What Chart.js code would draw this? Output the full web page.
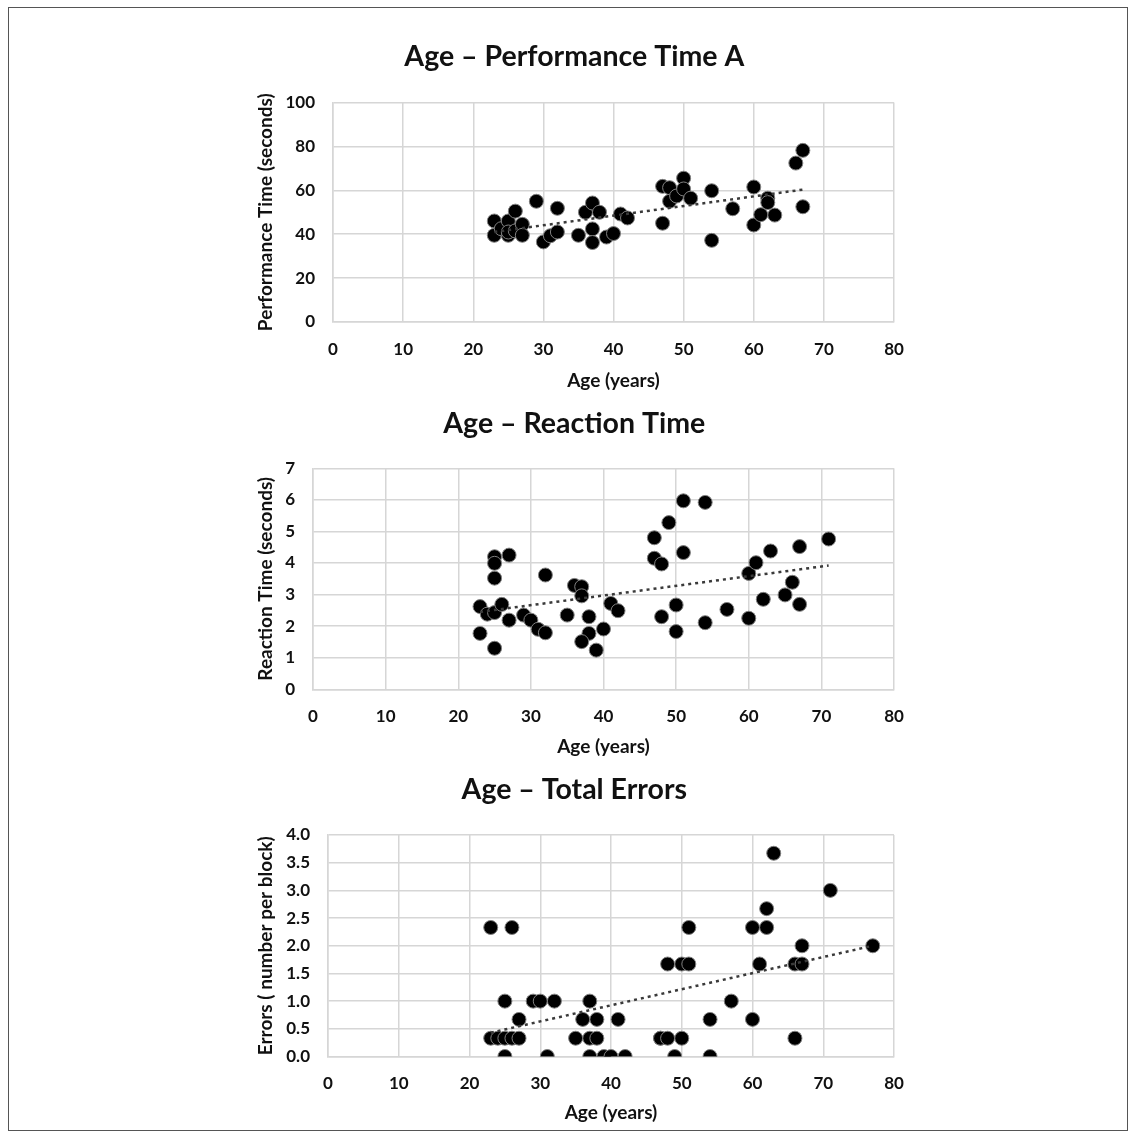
<!DOCTYPE html>
<html>
<head>
<meta charset="utf-8">
<script src="https://cdn.jsdelivr.net/npm/chart.js@4.4.1/dist/chart.umd.min.js"></script>
<style>
  html, body { margin: 0; padding: 0; background: #fff; }
  #page { position: relative; width: 1136px; height: 1137px; overflow: hidden; }
  #frame { position: absolute; left: 8px; top: 7px; width: 1118px; height: 1122px; border: 1px solid #555; }
  canvas { position: absolute; left: 0; }
</style>
</head>
<body>
<div id="page">
  <div id="frame"></div>
  <canvas id="c1" width="1136" height="400" style="top:0px"></canvas>
  <canvas id="c2" width="1136" height="365" style="top:400px"></canvas>
  <canvas id="c3" width="1136" height="372" style="top:765px"></canvas>
</div>
<script>
// Age vs. Performance Time A (seconds)
const agePerf = [23, 23, 24, 25, 25, 25, 26, 26, 27, 27,
  29, 30, 31, 32, 32, 35, 36, 37, 37, 37, 38, 39, 40, 41, 42,
  47, 47, 48, 48, 49, 50, 50, 51, 54, 54, 57, 60, 60, 61, 62, 62, 63, 66, 67, 67];
const perfTime = [46, 39.5, 42.5, 46, 39.5, 41, 50.5, 41.5, 44.5, 39.5,
  55, 36.5, 39.3, 41, 51.8, 39.5, 50, 54.2, 42.4, 36.2, 50, 38.7, 40.3, 49.2, 47.4,
  61.8, 45, 61.2, 55, 57.4, 65.5, 60.6, 56.4, 59.8, 37.2, 51.6, 61.5, 44.2, 48.9, 56.4, 54.4, 48.7, 72.4, 78.2, 52.5];
const perfTrendAge = [23, 67];
const perfTrendVal = [41.0, 60.3];

// Age vs. Reaction Time (seconds)
const ageReact = [23, 24, 25, 26, 25, 25, 25, 27, 23, 25, 27, 29, 30, 31, 32, 32, 35, 36, 37, 37,
  38, 38, 37, 39, 40, 41, 42, 47, 47, 48, 49, 51, 54, 51, 48, 50, 50, 54, 57, 60,
  60, 61, 63, 62, 65, 66, 67, 67, 71];
const reactTime = [2.62, 2.38, 2.43, 2.69, 4.2, 3.99, 3.52, 4.25, 1.77, 1.3, 2.19, 2.35, 2.19, 1.9, 1.79, 3.62, 2.35, 3.29, 3.25, 2.96,
  2.3, 1.77, 1.51, 1.24, 1.91, 2.72, 2.49, 4.8, 4.15, 3.97, 5.28, 5.97, 5.92, 4.33, 2.3, 2.67, 1.83, 2.11, 2.53, 2.25,
  3.67, 4.01, 4.38, 2.85, 2.99, 3.39, 2.69, 4.52, 4.76];
const reactTrendAge = [23, 71];
const reactTrendVal = [2.45, 3.92];

// Age vs. Total Errors (number per block)
const ageErr = [23, 26, 25, 29, 30, 32, 37, 27, 36, 38, 41, 23, 24, 25, 26, 27, 35, 37, 38,
  25, 31, 37, 39, 40, 42, 47,
  63, 71, 62, 51, 60, 62, 67, 77, 48, 50, 51, 61, 66, 67, 57, 54, 60, 47, 48, 50, 66, 49, 54];
const errCount = [2.33, 2.33, 1, 1, 1, 1, 1, 0.67, 0.67, 0.67, 0.67, 0.33, 0.33, 0.33, 0.33, 0.33, 0.33, 0.33, 0.33,
  0, 0, 0, 0, 0, 0, 0.33,
  3.67, 3, 2.67, 2.33, 2.33, 2.33, 2, 2, 1.67, 1.67, 1.67, 1.67, 1.67, 1.67, 1, 0.67, 0.67, 0.33, 0.33, 0.33, 0.33, 0, 0];
const errTrendAge = [23, 77];
const errTrendVal = [0.43, 2.0];

// Shared axis ticks
const ageTicks = [0, 10, 20, 30, 40, 50, 60, 70, 80];

const FONT = 'Lato, "Open Sans", sans-serif';
const GRID = '#d6d6d6';

function points(xs, ys) {
  return xs.map((x, i) => ({ x: x, y: ys[i] }));
}

function drawPanel(id, spec) {
  const ctx = document.getElementById(id);
  new Chart(ctx, {
    type: 'scatter',
    data: {
      datasets: [
        {
          // linear trend, drawn over the markers
          type: 'line',
          data: points(spec.trendX, spec.trendY),
          borderColor: '#3a3a3a',
          borderWidth: 2.5,
          borderDash: [3, 4],
          pointRadius: 0,
          fill: false,
          order: 0
        },
        {
          data: points(spec.xs, spec.ys),
          backgroundColor: '#000',
          borderColor: '#808080',
          borderWidth: 1,
          pointRadius: 7,
          pointHoverRadius: 7,
          order: 1
        }
      ]
    },
    options: {
      responsive: false,
      animation: false,
      devicePixelRatio: 1,
      layout: {
        padding: { top: spec.padTop, left: 254.6, right: 242, bottom: spec.padBottom }
      },
      plugins: {
        legend: { display: false },
        tooltip: { enabled: false },
        title: {
          display: true,
          text: spec.title,
          color: '#111',
          font: { family: FONT, size: 28.5, weight: 'bold', lineHeight: 1.2 },
          padding: { top: 0, bottom: spec.titleGap }
        }
      },
      scales: {
        x: {
          type: 'linear',
          min: 0, max: 80,
          afterBuildTicks: s => { s.ticks = ageTicks.map(v => ({ value: v })); },
          afterFit: s => { s.height = spec.xHeight; },
          grid: { color: GRID, lineWidth: 1.5, drawTicks: false },
          border: { color: GRID, width: 1.5 },
          ticks: {
            padding: 17, maxRotation: 0, autoSkip: false, color: '#111',
            font: { family: FONT, size: 17, weight: 'bold' }
          },
          title: {
            display: true, text: 'Age (years)', color: '#111',
            font: { family: FONT, size: 19, weight: 'bold', lineHeight: 1.2 },
            padding: { top: 0, bottom: 0 }
          }
        },
        y: {
          type: 'linear',
          min: 0, max: spec.yMax,
          afterBuildTicks: s => { s.ticks = spec.yTicks.map(v => ({ value: v })); },
          afterFit: s => { s.width = spec.yWidth; },
          grid: { color: GRID, lineWidth: 1.5, drawTicks: false },
          border: { color: GRID, width: 1.5 },
          ticks: {
            padding: 18, color: '#111',
            font: { family: FONT, size: 17, weight: 'bold' },
            callback: v => spec.yDecimals ? Number(v).toFixed(spec.yDecimals) : String(v)
          },
          title: {
            display: true, text: spec.yTitle, color: '#111',
            font: { family: FONT, size: 19, weight: 'bold', lineHeight: 1.2 },
            padding: { top: 0, bottom: 0 }
          }
        }
      }
    }
  });
}

drawPanel('c1', {
  title: 'Age \u2013 Performance Time A',
  yTitle: 'Performance Time (seconds)',
  xs: agePerf, ys: perfTime, trendX: perfTrendAge, trendY: perfTrendVal,
  yMax: 100, yTicks: [0, 20, 40, 60, 80, 100], yDecimals: 0,
  padTop: 39.9, titleGap: 28.4, yWidth: 78.4, xHeight: 70.4, padBottom: 7.6
});

drawPanel('c2', {
  title: 'Age \u2013 Reaction Time',
  yTitle: 'Reaction Time (seconds)',
  xs: ageReact, ys: reactTime, trendX: reactTrendAge, trendY: reactTrendVal,
  yMax: 7, yTicks: [0, 1, 2, 3, 4, 5, 6, 7], yDecimals: 0,
  padTop: 6.9, titleGap: 27.2, yWidth: 58.4, xHeight: 69.1, padBottom: 6.6
});

drawPanel('c3', {
  title: 'Age \u2013 Total Errors',
  yTitle: 'Errors ( number per block)',
  xs: ageErr, ys: errCount, trendX: errTrendAge, trendY: errTrendVal,
  yMax: 4, yTicks: [0, 0.5, 1, 1.5, 2, 2.5, 3, 3.5, 4], yDecimals: 1,
  padTop: 7.9, titleGap: 27.9, yWidth: 73.4, xHeight: 67.9, padBottom: 12.6
});
</script>
</body>
</html>
